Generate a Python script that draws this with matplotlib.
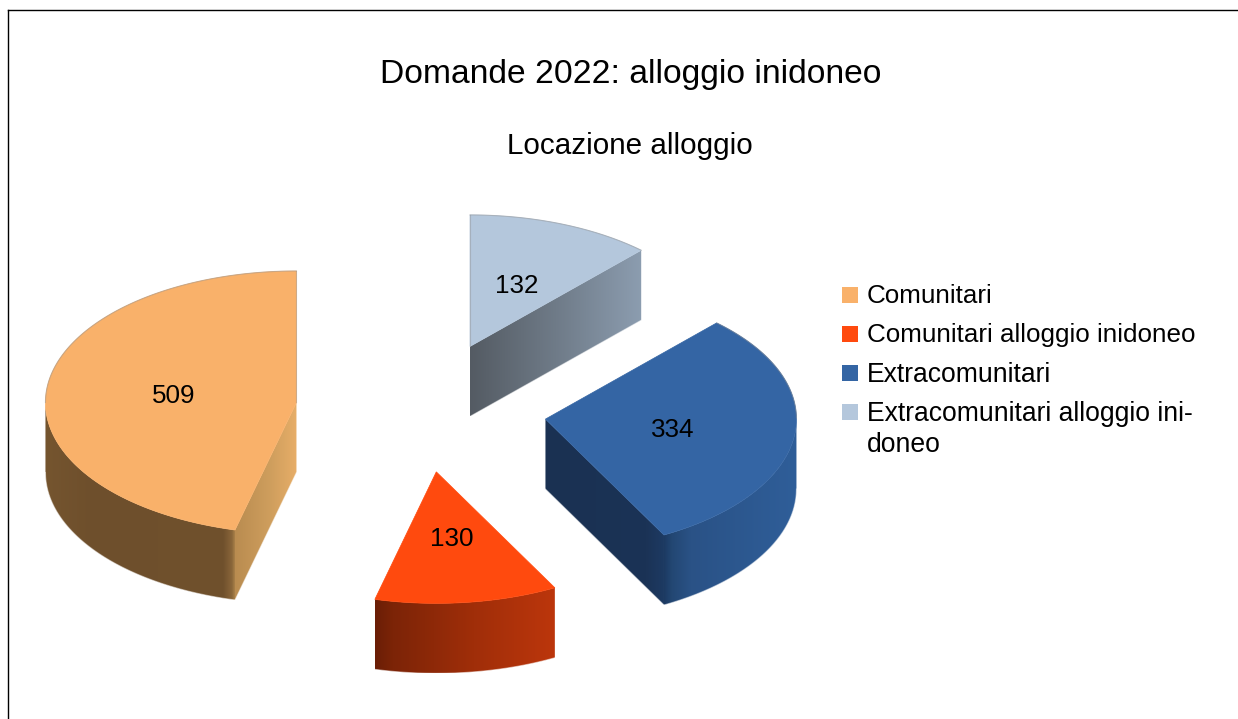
import numpy as np
import matplotlib
matplotlib.use("Agg")
import matplotlib.pyplot as plt
from matplotlib.colors import to_rgb
from matplotlib.patches import Polygon

plt.rcParams['font.family'] = ['Liberation Sans', 'DejaVu Sans']

title = "Domande 2022: alloggio inidoneo"
subtitle = "Locazione alloggio"
categories = ["Comunitari", "Comunitari alloggio inidoneo", "Extracomunitari",
              "Extracomunitari alloggio ini-\ndoneo"]
values = [509, 130, 334, 132]
colors = ["#f9b16a", "#ff4a0e", "#3465a4", "#b4c7dc"]

# shading of the sides, left to right: (position 0-1, colour)
rim_shade = [
    [(0, "#75552f"), (0.25, "#6e4f2c"), (0.94, "#70512d"), (0.985, "#8a663a"), (1, "#a88048")],
    [(0, "#6a1e06"), (0.1, "#7c2407"), (0.55, "#a02e09"), (1, "#bc360c")],
    [(0, "#1c3a62"), (0.06, "#234773"), (0.2, "#2a5286"), (1, "#2f5e99")],
    None,
]
cut_shade = [
    [(0, "#b98c50"), (0.6, "#d09f5e"), (1, "#e8ae68")],
    None,
    [(0, "#1a3152"), (0.85, "#1b3356"), (1, "#1d3a62")],
    [(0, "#545b63"), (0.5, "#6f7b88"), (1, "#8c9db0")],
]

# pixel layout of the 3D pie
cx, cy = 421, 410.6
rx, ry = 251, 131.5
depth = 70
explode = 0.5
nudge = [(0, 0), (0, -4), (0, 0), (3, -3)]
label_nudge = [(2, 2), (0, 2), (2.5, 2), (1, 1)]
legend_size = [18.7, 18.7, 19.1, 19.1]


def pts(x0, y0, ang):
    a = np.radians(ang)
    return x0 + rx * np.cos(a), y0 - ry * np.sin(a)


def wall(ax, xs, ys, stops):
    # side wall: horizontal gradient image clipped to the wall outline
    outline = np.c_[np.r_[xs, xs[::-1]], np.r_[ys, ys[::-1] + depth]]
    x1, x2 = xs.min(), xs.max()
    pos = [s[0] for s in stops]
    rgb = np.array([to_rgb(s[1]) for s in stops])
    t = np.linspace(0, 1, 512)
    grad = np.stack([np.interp(t, pos, rgb[:, k]) for k in range(3)], axis=1)[None, :, :]
    im = ax.imshow(grad, extent=(x1, x2, outline[:, 1].max(), outline[:, 1].min()),
                   aspect="auto", interpolation="bilinear", zorder=2)
    clip = Polygon(outline, closed=True, transform=ax.transData, fc="none", ec="none")
    ax.add_patch(clip)
    im.set_clip_path(clip)
    # soften the clipped lower edge
    ax.plot(xs, ys + depth, color="white", lw=0.8, alpha=0.5, zorder=2.5)


fig = plt.figure(figsize=(12.38, 7.19), dpi=100)
ax = fig.add_axes([0, 0, 1, 1])
ax.axis("off")

# only top and left of the frame are in the picture
ax.plot([8, 8], [719, 10], color="black", lw=1)
ax.plot([8, 1238], [10, 10], color="black", lw=1)

start = 90.0
total = sum(values)
for i, v in enumerate(values):
    sweep = v / total * 360
    end = start + sweep
    mid = np.radians((start + end) / 2)
    x0 = cx + explode * rx * np.cos(mid) + nudge[i][0]
    y0 = cy - explode * ry * np.sin(mid) + nudge[i][1]

    # visible part of the outer wall is the front half of the ellipse
    lo, hi = max(start, 180), min(end, 360)
    if rim_shade[i] is not None and hi > lo:
        xs, ys = pts(x0, y0, np.linspace(lo, hi, 200))
        wall(ax, xs, ys, rim_shade[i])

    # cut wall that faces the viewer
    if cut_shade[i] is not None:
        xe, ye = pts(x0, y0, end if i == 0 else start)
        xs = np.linspace(min(x0, xe), max(x0, xe), 2)
        ys = y0 + (xs - x0) * (ye - y0) / (xe - x0)
        wall(ax, xs, ys, cut_shade[i])

    # top face
    ang = np.linspace(start, end, 200)
    xs, ys = pts(x0, y0, ang)
    ax.fill(np.r_[x0, xs], np.r_[y0, ys], color=colors[i], lw=0.5, zorder=3)

    # faint grey line along the back edge
    back = np.sin(np.radians(ang)) > 0
    if back.any():
        ax.plot(xs[back], ys[back], color="#8f8f8f", lw=0.8, alpha=0.45, zorder=4)
    if i in (0, 3):
        ax.plot([x0, x0], [y0, y0 - ry], color="#8f8f8f", lw=0.8, alpha=0.4, zorder=4)

    ax.text(x0 + 0.5 * rx * np.cos(mid) + label_nudge[i][0],
            y0 - 0.5 * ry * np.sin(mid) + label_nudge[i][1], str(v),
            ha="center", va="center", fontsize=18.7, color="black", zorder=5)
    start = end

ax.text(631, 83, title, ha="center", va="baseline", fontsize=24.25, color="black")
ax.text(629.5, 154, subtitle, ha="center", va="baseline", fontsize=21.3, color="black")

# legend
for i, name in enumerate(categories):
    ax.fill([842, 858, 858, 842], [287 + 39 * i, 287 + 39 * i, 303 + 39 * i, 303 + 39 * i],
            color=colors[i], lw=0)
    for j, line in enumerate(name.split("\n")):
        ax.text(867, 303 + 39.3 * i + 31 * j, line, ha="left", va="baseline",
                fontsize=legend_size[i], color="black")

ax.set_xlim(0, 1238)
ax.set_ylim(719, 0)
fig.savefig("out.png", dpi=100)
